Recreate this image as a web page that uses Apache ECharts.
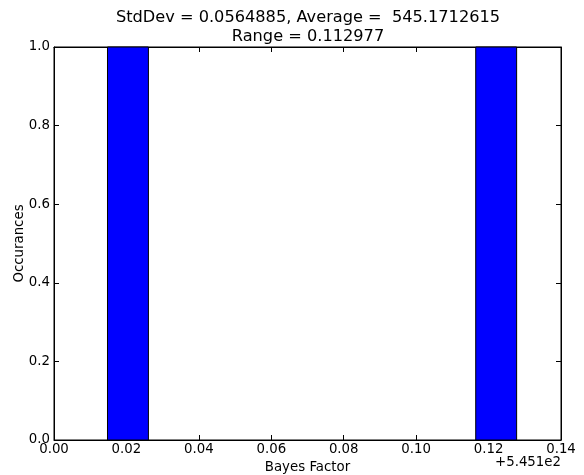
<!DOCTYPE html>
<html>
<head>
<meta charset="utf-8">
<script src="https://cdn.jsdelivr.net/npm/echarts@6/dist/echarts.min.js"></script>
<style>
  html, body { margin: 0; padding: 0; background: #ffffff; }
  #chart { width: 584px; height: 475px; }
</style>
</head>
<body>
<div id="chart"></div>
<script>
// Histogram of Bayes factors (x values shown relative to the offset 545.1)
const titleLines = ['StdDev = 0.0564885, Average =  545.1712615', 'Range = 0.112977'];
const binEdges = [0.014773, 0.026071, 0.037368, 0.048666, 0.059964, 0.071261,
                  0.082559, 0.093857, 0.105155, 0.116452, 0.127750];
const counts = [1, 0, 0, 0, 0, 0, 0, 0, 0, 1];
const xTickLabels = ['0.00', '0.02', '0.04', '0.06', '0.08', '0.10', '0.12', '0.14'];
const yTickLabels = ['0.0', '0.2', '0.4', '0.6', '0.8', '1.0'];
const offsetText = '+5.451e2';
const xName = 'Bayes Factor';
const yName = 'Occurances';

const FONT = 'DejaVu Sans';
const LABEL_SIZE = 13.33;

// Plot box (pixels from each edge of the canvas)
const BOX = { left: 54, right: 23, top: 47, bottom: 35 };
const X_MIN = 0, X_MAX = 0.14, X_STEP = 0.02;
const Y_MIN = 0, Y_MAX = 1, Y_STEP = 0.2;

// Tick labels live on helper axes that run one step past each end, so the
// first and last labels sit centred on their ticks like every other label.
const plotW = 584 - BOX.left - BOX.right;
const plotH = 475 - BOX.top - BOX.bottom;
const xStepPx = plotW * X_STEP / (X_MAX - X_MIN);
const yStepPx = plotH * Y_STEP / (Y_MAX - Y_MIN);

const bins = counts.map((c, i) => [binEdges[i], binEdges[i + 1], c]).filter(b => b[2] > 0);

const chart = echarts.init(document.getElementById('chart'), null, { renderer: 'canvas' });

const axisLineStyle = { show: true, onZero: false, lineStyle: { color: '#000', width: 1 } };
const tickStyle = { show: true, inside: true, length: 5, lineStyle: { color: '#000', width: 1 } };
const hiddenAxis = { show: false };
const gridBase = { containLabel: false, outerBoundsMode: 'none' };

chart.setOption({
  animation: false,
  backgroundColor: '#ffffff',
  title: {
    text: titleLines.join('\n'),
    top: 3,
    left: 303,
    textAlign: 'center',
    textStyle: { fontFamily: FONT, fontSize: 16.2, fontWeight: 'normal', color: '#000', lineHeight: 19 }
  },
  grid: [
    Object.assign({
      left: BOX.left, right: BOX.right, top: BOX.top, bottom: BOX.bottom,
      show: true, borderColor: '#000', borderWidth: 1, backgroundColor: 'transparent'
    }, gridBase),
    Object.assign({ // x tick labels
      left: BOX.left - xStepPx, width: plotW + 2 * xStepPx, top: BOX.top, height: plotH
    }, gridBase),
    Object.assign({ // y tick labels
      left: BOX.left, width: plotW, top: BOX.top - yStepPx, height: plotH + 2 * yStepPx
    }, gridBase)
  ],
  xAxis: [
    {
      gridIndex: 0, type: 'value', min: X_MIN, max: X_MAX, interval: X_STEP,
      name: xName, nameLocation: 'middle', nameGap: 21, nameMoveOverlap: false,
      nameTextStyle: { fontFamily: FONT, fontSize: LABEL_SIZE, color: '#000' },
      axisLine: axisLineStyle, axisTick: tickStyle,
      axisLabel: { show: false }, splitLine: { show: false }
    },
    {
      gridIndex: 0, type: 'value', min: X_MIN, max: X_MAX, interval: X_STEP, position: 'top',
      axisLine: axisLineStyle, axisTick: tickStyle,
      axisLabel: { show: false }, splitLine: { show: false }
    },
    {
      gridIndex: 1, type: 'value', min: X_MIN - X_STEP, max: X_MAX + X_STEP, interval: X_STEP,
      axisLine: { show: false }, axisTick: { show: false }, splitLine: { show: false },
      axisLabel: {
        fontFamily: FONT, fontSize: LABEL_SIZE, color: '#000', margin: 3,
        formatter: (v) => {
          const i = Math.round((v - X_MIN) / X_STEP);
          return xTickLabels[i] !== undefined ? xTickLabels[i] : '';
        }
      }
    },
    Object.assign({ gridIndex: 2, type: 'value', min: X_MIN, max: X_MAX }, hiddenAxis)
  ],
  yAxis: [
    {
      gridIndex: 0, type: 'value', min: Y_MIN, max: Y_MAX, interval: Y_STEP,
      name: yName, nameLocation: 'middle', nameGap: 28, nameMoveOverlap: false,
      nameTextStyle: { fontFamily: FONT, fontSize: LABEL_SIZE, color: '#000' },
      axisLine: axisLineStyle, axisTick: tickStyle,
      axisLabel: { show: false }, splitLine: { show: false }
    },
    {
      gridIndex: 0, type: 'value', min: Y_MIN, max: Y_MAX, interval: Y_STEP, position: 'right',
      axisLine: axisLineStyle, axisTick: tickStyle,
      axisLabel: { show: false }, splitLine: { show: false }
    },
    Object.assign({ gridIndex: 1, type: 'value', min: Y_MIN, max: Y_MAX }, hiddenAxis),
    {
      gridIndex: 2, type: 'value', min: Y_MIN - Y_STEP, max: Y_MAX + Y_STEP, interval: Y_STEP,
      axisLine: { show: false }, axisTick: { show: false }, splitLine: { show: false },
      axisLabel: {
        fontFamily: FONT, fontSize: LABEL_SIZE, color: '#000', margin: 4,
        formatter: (v) => {
          const i = Math.round((v - Y_MIN) / Y_STEP);
          return yTickLabels[i] !== undefined ? yTickLabels[i] : '';
        }
      }
    }
  ],
  graphic: [
    {
      type: 'text', right: 23, top: 456,
      style: { text: offsetText, fontFamily: FONT, fontSize: LABEL_SIZE, fill: '#000', textAlign: 'right' }
    }
  ],
  series: [
    {
      type: 'custom',
      coordinateSystem: 'cartesian2d',
      xAxisIndex: 0, yAxisIndex: 0,
      data: bins,
      encode: { x: [0, 1], y: 2 },
      renderItem: function (params, api) {
        const p0 = api.coord([api.value(0), 0]);
        const p1 = api.coord([api.value(1), api.value(2)]);
        return {
          type: 'rect',
          shape: { x: p0[0], y: p1[1], width: p1[0] - p0[0], height: p0[1] - p1[1] },
          style: { fill: '#0000ff', stroke: '#000', lineWidth: 1 }
        };
      }
    }
  ]
});
</script>
</body>
</html>
